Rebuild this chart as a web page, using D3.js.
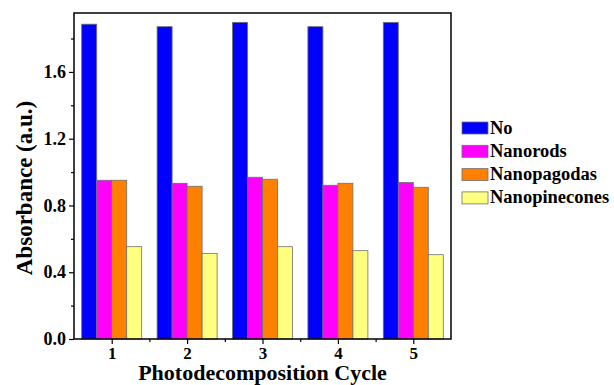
<!DOCTYPE html>
<html lang="en">
<head>
	<meta charset="UTF-8">
	<title>Absorbance</title>
	<script src="https://cdn.jsdelivr.net/npm/d3@7"></script>
	<style>
		html,body{
			margin:0;
			padding:0;
			background:#fff;
		}
		svg{
			display:block;
			font-family:"Liberation Serif","Times New Roman",serif;
			font-weight:bold;
		}
		.bar{
			stroke:#6f6f6f;
			stroke-width:0.8;
		}
	</style>
</head>
<body>
	<svg id="svg" width="614" height="385"></svg>
	<script>
		var cycles = [1,2,3,4,5];
		var series = ["No","Nanorods","Nanopagodas","Nanopinecones"];
		var colors = ["#0000ff","#ff00ff","#ff8000","#ffff80"];
		var noVals = [1.886,1.871,1.897,1.871,1.897];
		var rodVals = [0.951,0.933,0.969,0.921,0.937];
		var pagodaVals = [0.951,0.915,0.957,0.933,0.909];
		var pineVals = [0.553,0.513,0.553,0.529,0.505];
		var yTicks = [0,0.4,0.8,1.2,1.6];
		var yMinor = [0.2,0.6,1.0,1.4,1.8];
		var xMinor = [1.5,2.5,3.5,4.5];

		var values = [noVals,rodVals,pagodaVals,pineVals];

		window.onload = ()=>{
			var svg = d3.select("#svg");
			var mLeft = 74, mRight = 451, mTop = 13, mBottom = 339;

			var xscale = d3.scaleLinear()
				.domain([0.5,5.5])
				.range([mLeft,mRight]);
			var inner = d3.scaleBand()
				.domain(series)
				.range([-30,30]);
			var yscale = d3.scaleLinear()
				.domain([0,1.953])
				.range([mBottom,mTop]);

			// bars
			var groups = svg.selectAll(".grp")
				.data(cycles)
				.enter().append("g")
				.attr("class","grp")
				.attr("transform",(d)=>{return "translate("+xscale(d)+",0)"});
			groups.selectAll("rect")
				.data((d,i)=>{
					return series.map((s,j)=>{return {s:s,v:values[j][i],c:colors[j]}})
				})
				.enter().append("rect")
				.attr("class","bar")
				.attr("x",(d)=>{return inner(d.s)})
				.attr("width",inner.bandwidth())
				.attr("y",(d)=>{return yscale(d.v)})
				.attr("height",(d)=>{return mBottom-yscale(d.v)})
				.attr("fill",(d)=>{return d.c});

			// axes
			var xax = svg.append("g")
				.attr("transform","translate(0,"+mBottom+")")
				.call(d3.axisBottom(xscale).tickValues(cycles).tickFormat(d3.format("d")).tickSize(5).tickPadding(3));
			svg.append("g")
				.attr("transform","translate(0,"+mBottom+")")
				.call(d3.axisBottom(xscale).tickValues(xMinor).tickFormat("").tickSize(3));
			var yax = svg.append("g")
				.attr("transform","translate("+mLeft+",0)")
				.call(d3.axisLeft(yscale).tickValues(yTicks).tickFormat(d3.format(".1f")).tickSize(5).tickPadding(3));
			svg.append("g")
				.attr("transform","translate("+mLeft+",0)")
				.call(d3.axisLeft(yscale).tickValues(yMinor).tickFormat("").tickSize(3));
			svg.selectAll(".domain").remove();
			svg.selectAll(".tick line").attr("stroke","#000").attr("stroke-width",1.2);
			svg.selectAll(".tick text")
				.attr("fill","#000")
				.style("font-family","'Liberation Serif',serif")
				.style("font-weight","bold");
			xax.selectAll("text").style("font-size","17px");
			yax.selectAll("text").style("font-size","18px");

			// frame
			svg.append("rect")
				.attr("x",mLeft).attr("y",mTop)
				.attr("width",mRight-mLeft).attr("height",mBottom-mTop)
				.attr("fill","none").attr("stroke","#000").attr("stroke-width",1.5);

			// titles
			svg.append("text")
				.attr("x",(mLeft+mRight)/2).attr("y",380)
				.attr("text-anchor","middle")
				.style("font-size","22px")
				.text("Photodecomposition Cycle");
			svg.append("text")
				.attr("transform","translate(32,188) rotate(-90)")
				.attr("text-anchor","middle")
				.style("font-size","23px")
				.text("Absorbance (a.u.)");

			// legend
			var legend = svg.selectAll(".leg")
				.data(series)
				.enter().append("g")
				.attr("class","leg")
				.attr("transform",(d,i)=>{return "translate(462,"+(122+i*23.3)+")"});
			legend.append("rect")
				.attr("class","bar")
				.attr("width",26).attr("height",12)
				.attr("fill",(d,i)=>{return colors[i]});
			legend.append("text")
				.attr("x",28).attr("y",11.5)
				.style("font-size","18.5px")
				.text((d)=>{return d});
		}
	</script>
</body>
</html>
